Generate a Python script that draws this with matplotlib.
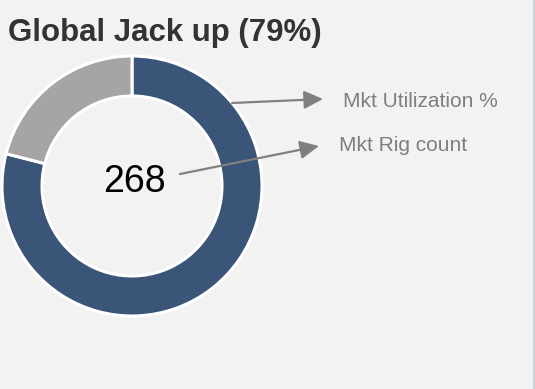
import matplotlib
matplotlib.use("Agg")
import matplotlib.pyplot as plt

plt.rcParams["font.family"] = ["Liberation Sans", "DejaVu Sans"]

# utilisation split: working vs idle share of the fleet
labels = ["Utilized", "Idle"]
shares = [79, 21]
rig_count = 268
title = "Global Jack up (79%)"
callouts = ["Mkt Utilization %", "Mkt Rig count"]

BG = "#f2f2f2"
BLUE = "#3b5579"
GREY = "#a5a5a5"
ARROW = "#808080"

W, H = 535, 389
fig = plt.figure(figsize=(W / 100, H / 100), dpi=100, facecolor=BG)
ax = fig.add_axes([0, 0, 1, 1])
ax.set_facecolor(BG)

# work in pixel units, y measured upward from the bottom
cx, cy, r = 132, H - 186, 130
ax.pie(shares, colors=[BLUE, GREY], startangle=90, counterclock=False,
       radius=r, center=(cx, cy),
       wedgeprops=dict(width=40, edgecolor="white", linewidth=2.2))
ax.set_xlim(0, W)
ax.set_ylim(0, H)
ax.set_aspect("auto")
ax.axis("off")

ax.text(8, H - 33, title, fontsize=22.5, fontweight="bold", color="#333333",
        ha="left", va="center")
ax.text(cx + 2, H - 182, f"{rig_count}", fontsize=27, color="black",
        ha="center", va="center")

arrow_style = dict(arrowstyle="-|>,head_length=1.15,head_width=0.55",
                   color=ARROW, lw=1.6, shrinkA=0, shrinkB=0)
ax.annotate("", xy=(323, H - 99), xytext=(232, H - 103), arrowprops=arrow_style)
ax.annotate("", xy=(319, H - 146), xytext=(180, H - 174), arrowprops=arrow_style)

ax.text(343, H - 101, callouts[0], fontsize=15, color="#7f7f7f",
        ha="left", va="center")
ax.text(339, H - 145, callouts[1], fontsize=15, color="#7f7f7f",
        ha="left", va="center")

# thin panel border on the right
ax.plot([533.5, 533.5], [0, H], color="#c9cdd2", lw=1.2)

fig.savefig("out.png", dpi=100, facecolor=BG)
